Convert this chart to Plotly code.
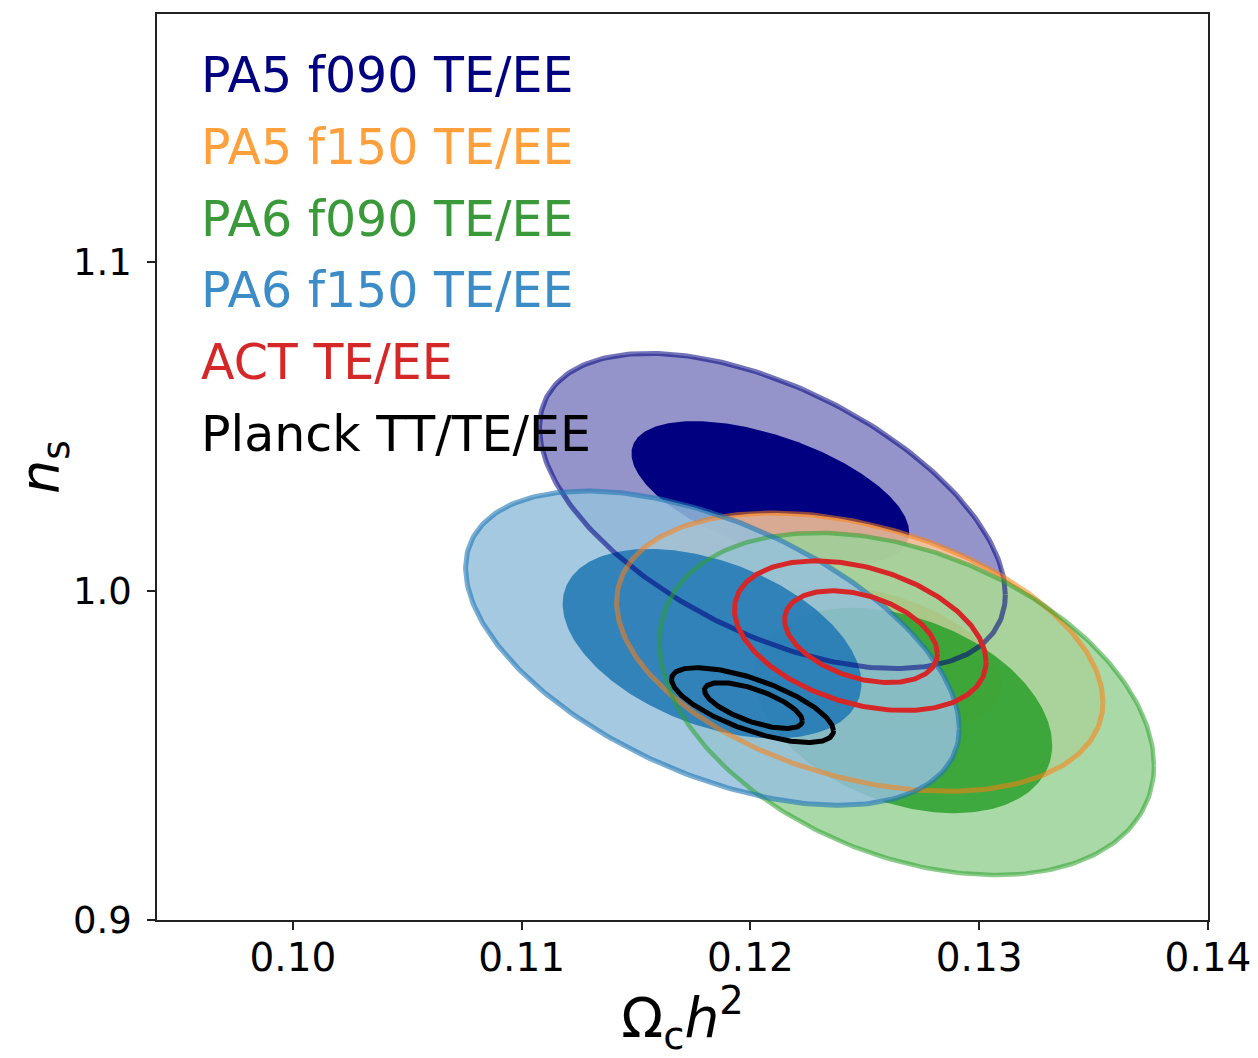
import numpy as np
import plotly.graph_objects as go

# ---- data (contour ellipse parameters) ----
labels = ["PA5 f090 TE/EE", "PA5 f150 TE/EE", "PA6 f090 TE/EE",
          "PA6 f150 TE/EE", "ACT TE/EE", "Planck TT/TE/EE"]
# outer (95%) contours: centre, half-extent in x and y, correlation
outer_cx = [0.12096, 0.12478, 0.12683, 0.11834, 0.12480, 0.12009]
outer_cy = [1.02424, 0.98136, 0.96561, 0.98258, 0.98636, 0.96530]
outer_dx = [0.01018, 0.01063, 0.01081, 0.01079, 0.00550, 0.00354]
outer_dy = [0.04788, 0.04227, 0.05197, 0.04773, 0.02273, 0.01136]
outer_rho = [-0.53, -0.36, -0.36, -0.51, -0.35, -0.69]
# inner (68%) contours
inner_cx = [0.12087, 0.12537, 0.12668, 0.11832, 0.12483, 0.12013]
inner_cy = [1.02970, 0.97955, 0.96364, 0.98394, 0.98606, 0.96515]
inner_dx = [0.00607, 0.00563, 0.00651, 0.00653, 0.00334, 0.00214]
inner_dy = [0.02182, 0.02197, 0.03121, 0.02879, 0.01394, 0.00697]
inner_rho = [-0.55, -0.36, -0.34, -0.42, -0.37, -0.67]

x_ticks = [0.10, 0.11, 0.12, 0.13, 0.14]
x_ticklabels = ["0.10", "0.11", "0.12", "0.13", "0.14"]
y_ticks = [0.9, 1.0, 1.1]
y_ticklabels = ["0.9", "1.0", "1.1"]

# ---- styles ----
base_rgb = [(0, 0, 128), (255, 127, 14), (44, 160, 44), (31, 119, 180),
            (214, 39, 40), (0, 0, 0)]
outer_fill = ["rgba(148,148,202,1)", "rgba(255,200,150,0.85)",
              "rgba(155,210,153,0.85)", "rgba(149,191,220,0.85)"]
inner_fill = ["rgba(0,0,128,1)", "rgba(255,127,14,0.85)",
              "rgba(44,160,44,0.85)", "rgba(31,119,180,0.85)"]
text_colors = ["#000080", "#ffa03c", "#3a9a3a", "#3c8cc8", "#d62728", "#000000"]
line_alpha = [0.55, 0.55, 0.55, 0.6]
line_width = [5, 5, 4.5, 5]


def rgba(rgb, a):
    return "rgba(%d,%d,%d,%.3f)" % (rgb[0], rgb[1], rgb[2], a)


def ellipse(cx, cy, dx, dy, rho, n=300):
    t = np.linspace(0, 2 * np.pi, n)
    x = cx + dx * np.cos(t)
    y = cy + dy * (rho * np.cos(t) + np.sqrt(1 - rho ** 2) * np.sin(t))
    return x, y


fig = go.Figure()

# filled contours first (all fills), then outlines
for i in range(4):
    xo, yo = ellipse(outer_cx[i], outer_cy[i], outer_dx[i], outer_dy[i], outer_rho[i])
    fig.add_trace(go.Scatter(x=xo, y=yo, mode="lines", fill="toself",
                             fillcolor=outer_fill[i],
                             line=dict(width=0), hoverinfo="skip", showlegend=False))
    xi, yi = ellipse(inner_cx[i], inner_cy[i], inner_dx[i], inner_dy[i], inner_rho[i])
    fig.add_trace(go.Scatter(x=xi, y=yi, mode="lines", fill="toself",
                             fillcolor=inner_fill[i],
                             line=dict(width=0), hoverinfo="skip", showlegend=False))

for i in range(4):
    xo, yo = ellipse(outer_cx[i], outer_cy[i], outer_dx[i], outer_dy[i], outer_rho[i])
    fig.add_trace(go.Scatter(x=xo, y=yo, mode="lines",
                             line=dict(color=rgba(base_rgb[i], line_alpha[i]), width=line_width[i]),
                             hoverinfo="skip", showlegend=False))

for i in range(4, 6):
    for cx, cy, dx, dy, r in [(outer_cx[i], outer_cy[i], outer_dx[i], outer_dy[i], outer_rho[i]),
                              (inner_cx[i], inner_cy[i], inner_dx[i], inner_dy[i], inner_rho[i])]:
        x, y = ellipse(cx, cy, dx, dy, r)
        fig.add_trace(go.Scatter(x=x, y=y, mode="lines",
                                 line=dict(color=rgba(base_rgb[i], 1.0), width=5),
                                 hoverinfo="skip", showlegend=False))

# legend as coloured text
for k, (lab, col) in enumerate(zip(labels, text_colors)):
    fig.add_annotation(x=0.04, y=(920 - (73.5 + 72 * k)) / 908, xref="paper", yref="paper",
                       text=lab, showarrow=False, xanchor="left", yanchor="middle",
                       font=dict(family="DejaVu Sans", size=49, color=col))

fig.update_layout(
    width=1250, height=1050,
    margin=dict(l=149, r=50, t=4, b=138),
    paper_bgcolor="white", plot_bgcolor="white",
    font=dict(family="DejaVu Sans", color="black"),
    showlegend=False,
)
fig.update_xaxes(range=[0.09406, 0.14], tickvals=x_ticks, ticktext=x_ticklabels,
                 showgrid=False, zeroline=False, showline=True, mirror=True,
                 linecolor="#222", linewidth=1.5, ticks="outside", ticklen=8,
                 tickwidth=1.5, tickcolor="#222", tickfont=dict(size=39),
                 ticklabelstandoff=-6,
                 title=dict(text="Ω<sub>c</sub><i>h</i><sup>2</sup>", font=dict(size=55), standoff=18))
fig.update_yaxes(range=[0.9, 1.1752], tickvals=y_ticks, ticktext=y_ticklabels,
                 showgrid=False, zeroline=False, showline=True, mirror=True,
                 linecolor="#222", linewidth=1.5, ticks="outside", ticklen=8,
                 tickwidth=1.5, tickcolor="#222", tickfont=dict(size=37),
                 ticklabelstandoff=8,
                 title=dict(text="<i>n</i><sub>s</sub>", font=dict(size=54), standoff=12))

fig.write_html("out.html")
